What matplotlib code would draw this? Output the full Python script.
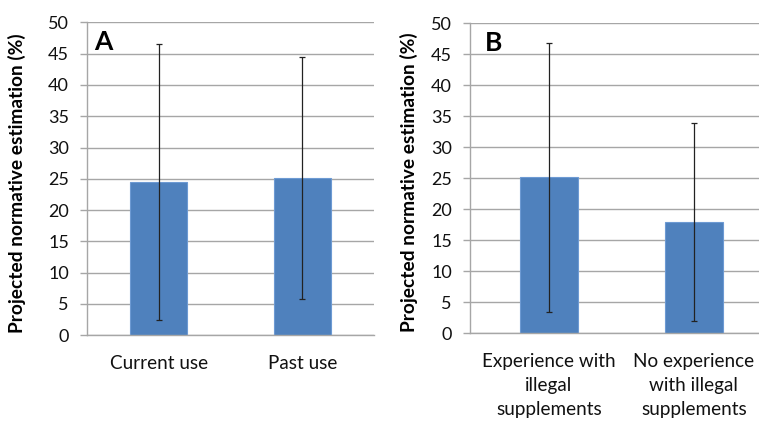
import matplotlib.pyplot as plt

plt.rcParams['font.family'] = ['Lato', 'DejaVu Sans']

# panel A: current vs past use
labels_a = ['Current use', 'Past use']
means_a = [24.5, 25.1]
err_a = [22.0, 19.3]

# panel B: experience with illegal supplements
labels_b = ['Experience with\nillegal\nsupplements', 'No experience\nwith illegal\nsupplements']
means_b = [25.2, 18.0]
err_b = [21.7, 16.0]

W, H = 759, 422
fig = plt.figure(figsize=(W / 100, H / 100), dpi=100)

bar_color = '#4f81bd'
grid_color = '#a6a6a6'


def panel(rect, labels, means, errs, letter, xlim, label_x, letter_x):
    left, top, right, bottom = rect
    ax = fig.add_axes([left / W, 1 - bottom / H, (right - left) / W, (bottom - top) / H])
    x = range(len(labels))
    ax.bar(x, means, width=0.4, color=bar_color, edgecolor='#6d9ad3', linewidth=0.8, zorder=2)
    ax.errorbar(x, means, yerr=errs, fmt='none', ecolor='#222222', elinewidth=0.9,
                capsize=2.5, capthick=0.9, zorder=3)
    ax.set_xlim(*xlim)
    ax.set_ylim(0, 50)
    ax.set_yticks(range(0, 51, 5))
    ax.yaxis.grid(True, color=grid_color, linewidth=1.0, zorder=0)
    ax.set_axisbelow(True)
    for s in ['top', 'right']:
        ax.spines[s].set_visible(False)
    for s in ['left', 'bottom']:
        ax.spines[s].set_color(grid_color)
        ax.spines[s].set_linewidth(1.0)
    ax.tick_params(axis='y', length=5, width=1.0, color=grid_color, pad=8, labelsize=13,
                   labelcolor='#111111')
    ax.tick_params(axis='x', length=0, pad=14, labelsize=13.6, labelcolor='#111111')
    ax.set_xticks(list(x))
    ax.set_xticklabels(labels, linespacing=1.5, va='top')
    ax.set_ylabel('Projected normative estimation (%)', fontsize=13.8, fontweight='bold')
    ax.yaxis.set_label_coords(label_x, 0.487)
    ax.text(letter_x, 0.975, letter, transform=ax.transAxes,
            fontsize=19, fontweight='bold', va='top', ha='left')
    return ax


panel((87, 22.3, 374, 335.3), labels_a, means_a, err_a, 'A', (-0.5, 1.5), -0.212, 0.025)
panel((470, 23.3, 759, 333.3), labels_b, means_b, err_b, 'B', (-0.545, 1.45), -0.18, 0.05)

fig.savefig('out.png', dpi=100)
